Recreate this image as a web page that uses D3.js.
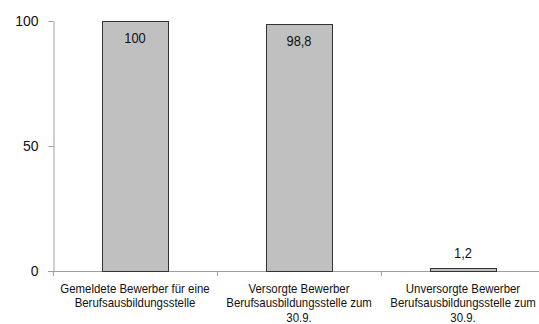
<!DOCTYPE html>
<html><head><meta charset="utf-8">
<script src="https://cdn.jsdelivr.net/npm/d3@7"></script>
<style>
html,body{margin:0;padding:0;background:#fff;}
svg text{font-family:"Liberation Sans",Arial,sans-serif;fill:#111;}
</style></head>
<body>
<svg id="chart" width="539" height="324"></svg>
<script>
const categories = [
  ["Gemeldete Bewerber für eine", "Berufsausbildungsstelle"],
  ["Versorgte Bewerber", "Berufsausbildungsstelle zum", "30.9."],
  ["Unversorgte Bewerber", "Berufsausbildungsstelle zum", "30.9."]
];
const values = [100, 98.8, 1.2];
const valueLabels = ["100", "98,8", "1,2"];
const yTicks = [0, 50, 100];

const svg = d3.select("#chart");
const ids = categories.map((c, i) => i);
const x = d3.scaleBand().domain(ids).range([53, 545]).paddingInner(0.6).paddingOuter(0.3);
const y = d3.scaleLinear().domain([0, 100]).range([271, 21]);

// Y axis
const yAxis = svg.append("g").attr("transform", "translate(53.5,0)")
  .call(d3.axisLeft(y).tickValues(yTicks).tickSize(5).tickPadding(10).tickSizeOuter(0));
yAxis.select(".domain").attr("stroke", "#a0a0a0");
yAxis.selectAll(".tick line").attr("stroke", "#a0a0a0");
yAxis.selectAll(".tick text").attr("font-size", 14).attr("fill", "#111")
  .style("font-family", "'Liberation Sans', Arial, sans-serif");

// X axis line
const step = x.step();
svg.append("line").attr("x1", 48).attr("x2", 545).attr("y1", y(0) + 0.5).attr("y2", y(0) + 0.5)
  .attr("stroke", "#a0a0a0");
svg.selectAll(".xtick").data(d3.range(categories.length + 1)).enter().append("line")
  .attr("x1", d => Math.round(53 + d * step) + 0.5).attr("x2", d => Math.round(53 + d * step) + 0.5)
  .attr("y1", y(0)).attr("y2", y(0) + 5).attr("stroke", "#a0a0a0");

// Bars
svg.selectAll(".bar").data(values).enter().append("rect")
  .attr("x", (d, i) => Math.round(x(i)) + 0.5)
  .attr("y", d => Math.round(y(d)) + 0.5)
  .attr("width", Math.round(x.bandwidth()))
  .attr("height", d => Math.round(y(0)) - Math.round(y(d)))
  .attr("fill", "#c0c0c0").attr("stroke", "#333").attr("stroke-width", 1);

// Value labels
svg.selectAll(".vl").data(values).enter().append("text")
  .attr("transform", (d, i) => `translate(${x(i) + x.bandwidth() / 2},${d > 10 ? y(d) + 22 : y(d) - 10}) scale(0.92,1)`)
  .attr("text-anchor", "middle").attr("font-size", 14)
  .text((d, i) => valueLabels[i]);

// Category labels
const cl = svg.selectAll(".cl").data(categories).enter().append("text")
  .attr("transform", (d, i) => `translate(${x(i) + x.bandwidth() / 2},0) scale(0.88,1)`)
  .attr("text-anchor", "middle").attr("font-size", 13);
cl.each(function(lines, i) {
  d3.select(this).selectAll("tspan").data(lines).enter().append("tspan")
    .attr("x", 0)
    .attr("y", (l, j) => 293 + j * 14.5)
    .text(l => l);
});
</script>
</body></html>
